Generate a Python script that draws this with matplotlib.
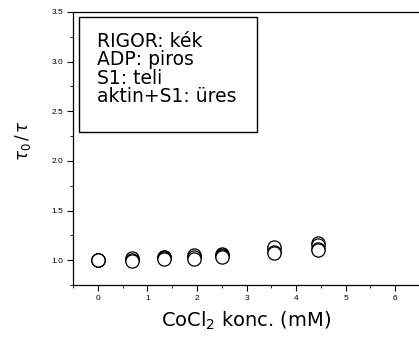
import matplotlib
matplotlib.use("Agg")
import matplotlib.pyplot as plt
from matplotlib.patches import Rectangle
from matplotlib.ticker import MultipleLocator

plt.rcParams['font.family'] = ['Liberation Sans', 'DejaVu Sans']
plt.rcParams['mathtext.fontset'] = 'dejavusans'

conc = [0, 0.7, 1.33, 1.95, 2.5, 3.55, 4.45]
rigor_s1 = [1.00, 0.99, 1.01, 1.01, 1.03, 1.07, 1.10]
adp_s1 = [1.00, 1.00, 1.02, 1.03, 1.04, 1.08, 1.11]
rigor_aktin_s1 = [1.00, 1.01, 1.03, 1.04, 1.06, 1.12, 1.17]
adp_aktin_s1 = [1.00, 1.02, 1.03, 1.05, 1.05, 1.13, 1.15]
legend_lines = ["RIGOR: kék", "ADP: piros", "S1: teli", "aktin+S1: üres"]
xticks = [0, 1, 2, 3, 4, 5, 6]
yticks = [1.0, 1.5, 2.0, 2.5, 3.0, 3.5]

fig = plt.figure(figsize=(4.19, 3.39), dpi=100)
ax = fig.add_axes([73/419, 1-285/339, 347/419, 273/339])

for s in [rigor_aktin_s1, adp_aktin_s1, adp_s1, rigor_s1]:
    ax.plot(conc, s, 'o', ms=9.5, mfc='white', mec='black', mew=0.9, ls='none')

ax.set_xlim(-0.5, 6.5)
ax.set_ylim(0.75, 3.5)
ax.set_xticks(xticks)
ax.set_yticks(yticks)
ax.set_yticklabels([f"{v:.1f}" for v in yticks])
ax.xaxis.set_minor_locator(MultipleLocator(0.5))
ax.yaxis.set_minor_locator(MultipleLocator(0.25))
ax.tick_params(axis='both', which='major', direction='out', length=4, width=0.8, labelsize=6, pad=3)
ax.tick_params(axis='both', which='minor', direction='out', length=2, width=0.6)
for sp in ax.spines.values():
    sp.set_linewidth(0.9)

big = ['DejaVu Sans']
ax.set_xlabel("CoCl$_2$ konc. (mM)", fontsize=14, labelpad=6, family=big)
fig.text(23/419, 1-141/339, r"$\tau_0\,/\,\tau$", rotation=90, fontsize=12,
         ha='center', va='center')

# text box
bx0 = (79-73)/347
bx1 = (257-73)/347
by0 = (285-132)/273
by1 = (285-17)/273
ax.add_patch(Rectangle((bx0, by0), bx1-bx0, by1-by0, transform=ax.transAxes,
                       fill=False, ec='black', lw=1.0))
for i, t in enumerate(legend_lines):
    ax.text((97-73)/347, (285-(46.7+i*18.5))/273, t, transform=ax.transAxes,
            fontsize=13.5, ha='left', va='baseline', family=big)

fig.savefig("out.png", dpi=100)
